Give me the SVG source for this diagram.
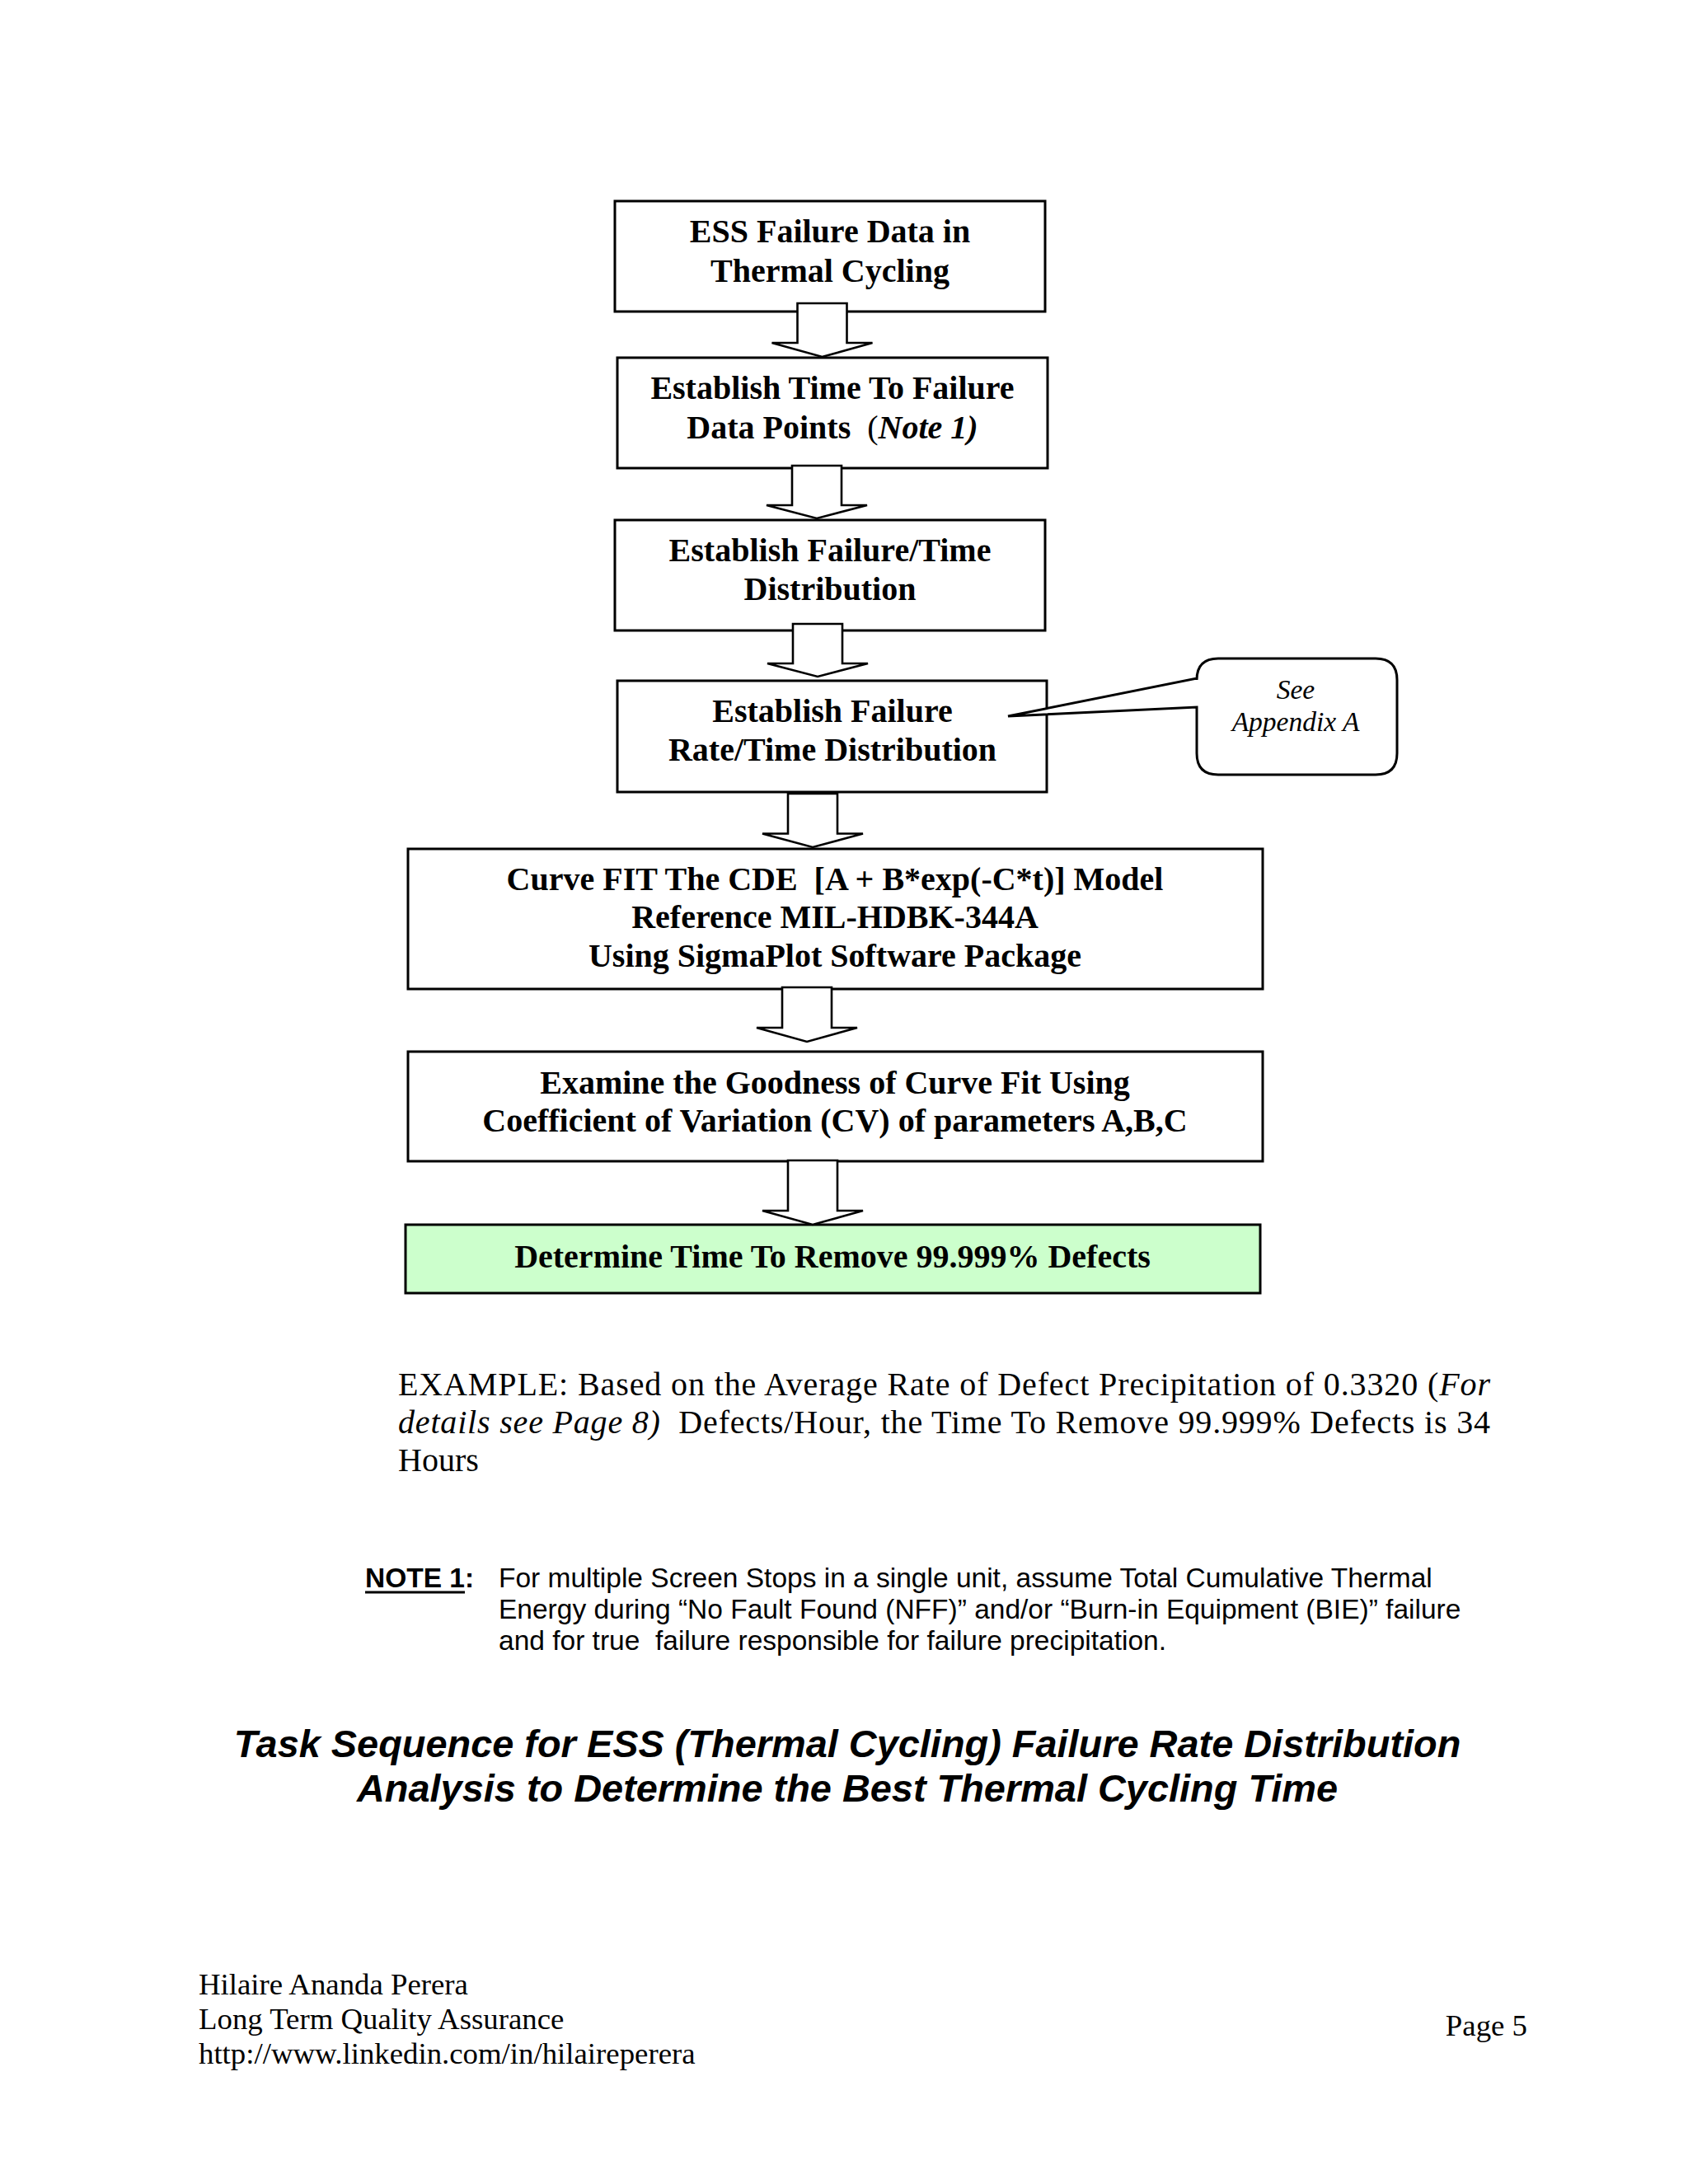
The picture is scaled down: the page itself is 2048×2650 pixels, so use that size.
<svg xmlns="http://www.w3.org/2000/svg" width="2048" height="2650" viewBox="0 0 2048 2650">
<style>
.box{fill:#ffffff;stroke:#000000;stroke-width:3}
.green{fill:#ccffcc;stroke:#000000;stroke-width:3}
.arrow{fill:#ffffff;stroke:#000000;stroke-width:2.6;stroke-linejoin:miter}
.bt{font-family:"Liberation Serif","Times New Roman",serif;font-weight:bold;font-size:40px;text-anchor:middle;fill:#000}
.ct{font-family:"Liberation Serif","Times New Roman",serif;font-style:italic;font-size:33.5px;text-anchor:middle;fill:#000}
.para{font-family:"Liberation Serif","Times New Roman",serif;font-size:40px;fill:#000}
.note{font-family:"Liberation Sans",Arial,sans-serif;font-size:33.5px;fill:#000}
.title{font-family:"Liberation Sans",Arial,sans-serif;font-size:46.9px;font-weight:bold;font-style:italic;text-anchor:middle;fill:#000}
.foot{font-family:"Liberation Serif","Times New Roman",serif;font-size:36.8px;fill:#000}
</style>
<rect x="0" y="0" width="2048" height="2650" fill="#ffffff"/>

<g id="node-ess-failure-data">
<rect class="box" x="746" y="244" width="522" height="134"/>
<text class="bt" x="1007" y="294">ESS Failure Data in</text>
<text class="bt" x="1007" y="342">Thermal Cycling</text>
</g>

<g id="node-time-to-failure">
<rect class="box" x="749" y="434" width="522" height="134"/>
<text class="bt" x="1010" y="484">Establish Time To Failure</text>
<text class="bt" x="1010" y="531.5" xml:space="preserve">Data Points  <tspan font-weight="normal">(</tspan><tspan font-style="italic">Note 1)</tspan></text>
</g>

<g id="node-failure-time-distribution">
<rect class="box" x="746" y="631" width="522" height="134"/>
<text class="bt" x="1007" y="681">Establish Failure/Time</text>
<text class="bt" x="1007" y="728">Distribution</text>
</g>

<g id="node-failure-rate-distribution">
<rect class="box" x="749" y="826" width="521" height="135"/>
<text class="bt" x="1010" y="876">Establish Failure</text>
<text class="bt" x="1010" y="923">Rate/Time Distribution</text>
</g>

<g id="node-see-appendix">
<path class="box" d="M1452,823 V825 Q1452,799 1478,799 H1669 Q1695,799 1695,825 V914 Q1695,940 1669,940 H1478 Q1452,940 1452,914 V858 L1223,869 Z"/>
<text class="ct" x="1572" y="848">See</text>
<text class="ct" x="1572" y="887">Appendix A</text>
</g>

<g id="node-curve-fit">
<rect class="box" x="495" y="1030" width="1037" height="170"/>
<text class="bt" x="1013" y="1080" xml:space="preserve">Curve FIT The CDE  [A + B*exp(-C*t)] Model</text>
<text class="bt" x="1013" y="1126">Reference MIL-HDBK-344A</text>
<text class="bt" x="1013" y="1172.5">Using SigmaPlot Software Package</text>
</g>

<g id="node-goodness-of-fit">
<rect class="box" x="495" y="1276" width="1037" height="133"/>
<text class="bt" x="1013" y="1326.5">Examine the Goodness of Curve Fit Using</text>
<text class="bt" x="1013" y="1373">Coefficient of Variation (CV) of parameters A,B,C</text>
</g>

<g id="node-determine-time">
<rect class="green" x="492" y="1486" width="1037" height="83"/>
<text class="bt" x="1010" y="1538">Determine Time To Remove 99.999% Defects</text>
</g>

<g id="connectors">
<polygon class="arrow" points="967.5,368 1027.5,368 1027.5,416 1058.5,416 997.5,433 936.5,416 967.5,416"/>
<polygon class="arrow" points="961,565 1021,565 1021,613 1052,613 991,629 930,613 961,613"/>
<polygon class="arrow" points="962,757 1022,757 1022,805 1053,805 992,821 931,805 962,805"/>
<polygon class="arrow" points="956,963 1016,963 1016,1011.5 1047,1011.5 986,1028 925,1011.5 956,1011.5"/>
<polygon class="arrow" points="949,1198 1009,1198 1009,1247 1040,1247 979,1264 918,1247 949,1247"/>
<polygon class="arrow" points="956,1408 1016,1408 1016,1469 1047,1469 986,1486 925,1469 956,1469"/>
</g>

<g id="example-text">
<text class="para" x="483" y="1693" textLength="1325" lengthAdjust="spacing">EXAMPLE: Based on the Average Rate of Defect Precipitation of 0.3320 (<tspan font-style="italic">For</tspan></text>
<text class="para" x="483" y="1739" textLength="1325" lengthAdjust="spacing" xml:space="preserve"><tspan font-style="italic">details see Page 8)</tspan>  Defects/Hour, the Time To Remove 99.999% Defects is 34</text>
<text class="para" x="483" y="1785">Hours</text>
</g>

<g id="note-text">
<text class="note" x="443" y="1926" font-weight="bold">NOTE 1:</text>
<line x1="443" y1="1932" x2="564" y2="1932" stroke="#000" stroke-width="3"/>
<text class="note" x="605" y="1926">For multiple Screen Stops in a single unit, assume Total Cumulative Thermal</text>
<text class="note" x="605" y="1964">Energy during “No Fault Found (NFF)” and/or “Burn-in Equipment (BIE)” failure</text>
<text class="note" x="605" y="2002" xml:space="preserve">and for true  failure responsible for failure precipitation.</text>
</g>

<g id="title">
<text class="title" x="1028" y="2132">Task Sequence for ESS (Thermal Cycling) Failure Rate Distribution</text>
<text class="title" x="1028" y="2186">Analysis to Determine the Best Thermal Cycling Time</text>
</g>

<g id="footer">
<text class="foot" x="241" y="2420">Hilaire Ananda Perera</text>
<text class="foot" x="241" y="2462">Long Term Quality Assurance</text>
<text class="foot" x="241" y="2504">http://www.linkedin.com/in/hilaireperera</text>
<text class="foot" x="1853" y="2470" text-anchor="end">Page 5</text>
</g>
</svg>
